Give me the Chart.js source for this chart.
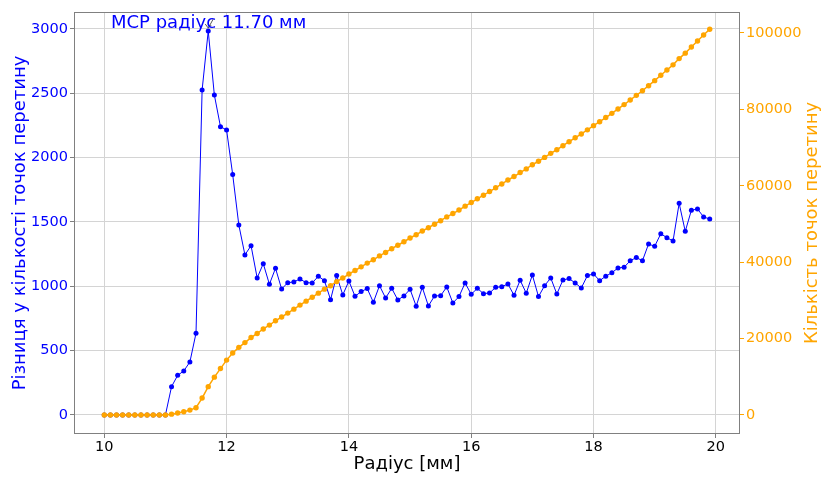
<!DOCTYPE html>
<html>
<head>
<meta charset="utf-8">
<script src="https://cdn.jsdelivr.net/npm/chart.js@4.4.1/dist/chart.umd.min.js"></script>
<style>
  html, body { margin: 0; padding: 0; background: #fff; }
  #wrap { width: 823px; height: 478px; }
</style>
</head>
<body>
<div id="wrap"><canvas id="chart" width="823" height="478"></canvas></div>
<script>
// Radius steps, mm
const radii = [
  10.0, 10.1, 10.2, 10.3, 10.4, 10.5, 10.6, 10.7, 10.8, 10.9,
  11.0, 11.1, 11.2, 11.3, 11.4, 11.5, 11.6, 11.7, 11.8, 11.9,
  12.0, 12.1, 12.2, 12.3, 12.4, 12.5, 12.6, 12.7, 12.8, 12.9,
  13.0, 13.1, 13.2, 13.3, 13.4, 13.5, 13.6, 13.7, 13.8, 13.9,
  14.0, 14.1, 14.2, 14.3, 14.4, 14.5, 14.6, 14.7, 14.8, 14.9,
  15.0, 15.1, 15.2, 15.3, 15.4, 15.5, 15.6, 15.7, 15.8, 15.9,
  16.0, 16.1, 16.2, 16.3, 16.4, 16.5, 16.6, 16.7, 16.8, 16.9,
  17.0, 17.1, 17.2, 17.3, 17.4, 17.5, 17.6, 17.7, 17.8, 17.9,
  18.0, 18.1, 18.2, 18.3, 18.4, 18.5, 18.6, 18.7, 18.8, 18.9,
  19.0, 19.1, 19.2, 19.3, 19.4, 19.5, 19.6, 19.7, 19.8, 19.9,
];

// Change in intersection count between neighbouring radii
const diffCounts = [
  0, 0, 0, 0, 0, 0, 0, 0, 0, 0,
  0, 220, 308, 342, 412, 635, 2526, 2984, 2487, 2241,
  2215, 1868, 1477, 1244, 1316, 1065, 1176, 1016, 1140, 979,
  1028, 1034, 1057, 1028, 1026, 1078, 1044, 896, 1083, 933,
  1041, 922, 959, 982, 876, 1005, 909, 984, 894, 925,
  977, 845, 992, 847, 925, 927, 995, 870, 920, 1026,
  938, 984, 943, 948, 992, 997, 1018, 930, 1047, 946,
  1088, 920, 1005, 1065, 940, 1049, 1060, 1026, 987, 1083,
  1096, 1044, 1078, 1106, 1142, 1148, 1199, 1223, 1199, 1329,
  1311, 1409, 1378, 1352, 1645, 1427, 1591, 1601, 1539, 1523,
];

// Total intersection count at each radius
const totalCounts = [
  0, 0, 0, 0, 0, 0, 0, 0, 0, 0,
  0, 220, 528, 870, 1282, 1917, 4443, 7427, 9914, 12155,
  14370, 16238, 17715, 18959, 20275, 21340, 22516, 23532, 24672, 25651,
  26679, 27713, 28770, 29798, 30824, 31902, 32946, 33842, 34925, 35858,
  36899, 37821, 38780, 39762, 40638, 41643, 42552, 43536, 44430, 45355,
  46332, 47177, 48169, 49016, 49941, 50868, 51863, 52733, 53653, 54679,
  55617, 56601, 57544, 58492, 59484, 60481, 61499, 62429, 63476, 64422,
  65510, 66430, 67435, 68500, 69440, 70489, 71549, 72575, 73562, 74645,
  75741, 76785, 77863, 78969, 80111, 81259, 82458, 83681, 84880, 86209,
  87520, 88929, 90307, 91659, 93304, 94731, 96322, 97923, 99462, 100985,
];

const xTicks = [10, 12, 14, 16, 18, 20];
const diffTicks = [0, 500, 1000, 1500, 2000, 2500, 3000];
const totalTicks = [0, 20000, 40000, 60000, 80000, 100000];

const peakRadius = 11.7;
const peakLabel = "МСР радіус 11.70 мм";
const xTitle = "Радіус [мм]";
const diffTitle = "Різниця у кількості точок перетину";
const totalTitle = "Кількість точок перетину";

const BLUE = "#0000ff";
const ORANGE = "#ffa500";
const GRID = "#d4d4d4";
const SPINE = "#808080";
const FONT = "'DejaVu Sans', sans-serif";

const fixedTicks = (values) => (scale) => {
  scale.ticks = values.map((v) => ({ value: v }));
};
const plain = (v) => String(v);

function verticalText(ctx, text, x, y, color) {
  ctx.save();
  ctx.translate(x, y);
  ctx.rotate(-Math.PI / 2);
  ctx.fillStyle = color;
  ctx.textAlign = "center";
  ctx.textBaseline = "middle";
  ctx.fillText(text, 0, 0);
  ctx.restore();
}

// frame, peak arrow + caption, both y titles (read bottom to top)
const decorations = {
  id: "decorations",
  afterDatasetsDraw(chart) {
    const { ctx, chartArea: a, scales } = chart;
    ctx.save();
    ctx.strokeStyle = SPINE;
    ctx.lineWidth = 1;
    ctx.strokeRect(a.left + 0.5, a.top + 0.5, a.right - a.left - 1, a.bottom - a.top - 1);

    const i = radii.indexOf(peakRadius);
    const px = scales.x.getPixelForValue(peakRadius);
    const py = scales.y.getPixelForValue(diffCounts[i]);
    ctx.strokeStyle = "#555";
    ctx.beginPath();
    ctx.moveTo(px + 5, py - 12);
    ctx.lineTo(px, py - 3);
    ctx.moveTo(px - 3, py - 7);
    ctx.lineTo(px, py - 3);
    ctx.lineTo(px + 3, py - 6);
    ctx.stroke();

    ctx.fillStyle = BLUE;
    ctx.font = "18px " + FONT;
    ctx.textAlign = "left";
    ctx.textBaseline = "alphabetic";
    ctx.fillText(peakLabel, a.left + 37, a.top + 16);

    const midY = (a.top + a.bottom) / 2;
    verticalText(ctx, diffTitle, 20, midY, BLUE);
    verticalText(ctx, totalTitle, 812, midY, ORANGE);
    ctx.restore();
  },
};

new Chart(document.getElementById("chart"), {
  type: "line",
  data: {
    datasets: [
      {
        label: "diff",
        data: radii.map((r, i) => ({ x: r, y: diffCounts[i] })),
        yAxisID: "y",
        borderColor: BLUE,
        backgroundColor: BLUE,
        borderWidth: 1,
        pointRadius: 2.5,
        pointBorderWidth: 0,
        tension: 0,
        order: 1,
      },
      {
        label: "total",
        data: radii.map((r, i) => ({ x: r, y: totalCounts[i] })),
        yAxisID: "y1",
        borderColor: ORANGE,
        backgroundColor: ORANGE,
        borderWidth: 1.5,
        pointRadius: 2.7,
        pointBorderWidth: 0,
        tension: 0,
        order: 0,
      },
    ],
  },
  options: {
    responsive: false,
    animation: false,
    devicePixelRatio: 1,
    font: { family: FONT, size: 18 },
    layout: { padding: { top: 12, left: 0, right: 0, bottom: 0 } },
    plugins: { legend: { display: false }, tooltip: { enabled: false } },
    scales: {
      x: {
        type: "linear",
        min: 9.505,
        max: 20.395,
        afterBuildTicks: fixedTicks(xTicks),
        afterFit: (s) => { s.height = 44; },
        grid: { color: GRID, tickColor: SPINE, tickLength: 4 },
        border: { display: false },
        ticks: { color: "#000", font: { family: FONT, size: 14.5 }, padding: 1, callback: plain },
        title: {
          display: true,
          text: xTitle,
          color: "#000",
          font: { family: FONT, size: 18 },
          padding: { top: 0, bottom: 3 },
        },
      },
      y: {
        position: "left",
        min: -148,
        max: 3132,
        afterBuildTicks: fixedTicks(diffTicks),
        afterFit: (s) => { s.width = 74; },
        grid: { color: GRID, tickColor: SPINE, tickLength: 4 },
        border: { display: false },
        ticks: { color: BLUE, font: { family: FONT, size: 14.5 }, padding: 2, callback: plain },
      },
      y1: {
        position: "right",
        min: -4974,
        max: 105497,
        afterBuildTicks: fixedTicks(totalTicks),
        afterFit: (s) => { s.width = 83; },
        grid: { drawOnChartArea: false, tickColor: ORANGE, tickLength: 4 },
        border: { display: false },
        ticks: { color: ORANGE, font: { family: FONT, size: 14.5 }, padding: 2, callback: plain },
      },
    },
  },
  plugins: [decorations],
});
</script>
</body>
</html>
